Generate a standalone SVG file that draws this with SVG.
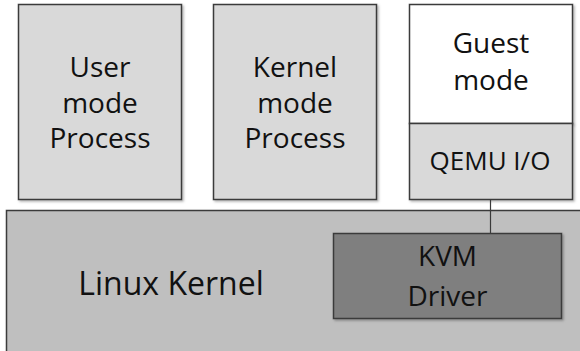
<svg xmlns="http://www.w3.org/2000/svg" width="580" height="351" viewBox="0 0 580 351">
  <defs>
    <filter id="sh" x="-10%" y="-10%" width="120%" height="120%">
      <feDropShadow dx="1.5" dy="1.5" stdDeviation="1.2" flood-color="#000" flood-opacity="0.3"/>
    </filter>
  </defs>
  <style>
    .box { stroke: #3a3a3a; stroke-width: 1.5; filter: url(#sh); }
    .lt { fill: #d9d9d9; }
    .wh { fill: #ffffff; }
    .lk { fill: #bfbfbf; }
    .kv { fill: #7f7f7f; }
    .t { font-family: "Open Sans", "Noto Sans", sans-serif; font-size: 28px; fill: #111; text-anchor: middle; }
    .conn { stroke: #3a3a3a; stroke-width: 1.2; fill: none; }
  </style>
  <rect width="580" height="351" fill="#ffffff"/>
  <g id="user-process">
    <rect class="box lt" x="18.5" y="4.5" width="163" height="195"/>
    <text class="t" x="100" y="77">User</text>
    <text class="t" x="100" y="113">mode</text>
    <text class="t" x="100" y="148">Process</text>
  </g>
  <g id="kernel-process">
    <rect class="box lt" x="213.5" y="4.5" width="163" height="195"/>
    <text class="t" x="295" y="77">Kernel</text>
    <text class="t" x="295" y="113">mode</text>
    <text class="t" x="295" y="148">Process</text>
  </g>
  <g id="guest-mode">
    <rect class="box wh" x="409.5" y="4.5" width="163" height="119"/>
    <text class="t" x="491" y="53">Guest</text>
    <text class="t" x="491" y="90">mode</text>
  </g>
  <g id="qemu-io">
    <rect class="box lt" x="409.5" y="123.5" width="163" height="76"/>
    <text class="t" x="490" y="170" style="font-size:26px">QEMU I/O</text>
  </g>
  <g id="linux-kernel">
    <rect class="box lk" x="6.5" y="210.5" width="600" height="170"/>
    <text class="t" x="171" y="295" style="font-size:32px">Linux Kernel</text>
  </g>
  <g id="connectors">
    <line class="conn" x1="490.5" y1="199.5" x2="490.5" y2="233.5"/>
  </g>
  <g id="kvm-driver">
    <rect class="box kv" x="333.5" y="233.5" width="228" height="85"/>
    <text class="t" x="447.5" y="266">KVM</text>
    <text class="t" x="447.5" y="306">Driver</text>
  </g>
</svg>
